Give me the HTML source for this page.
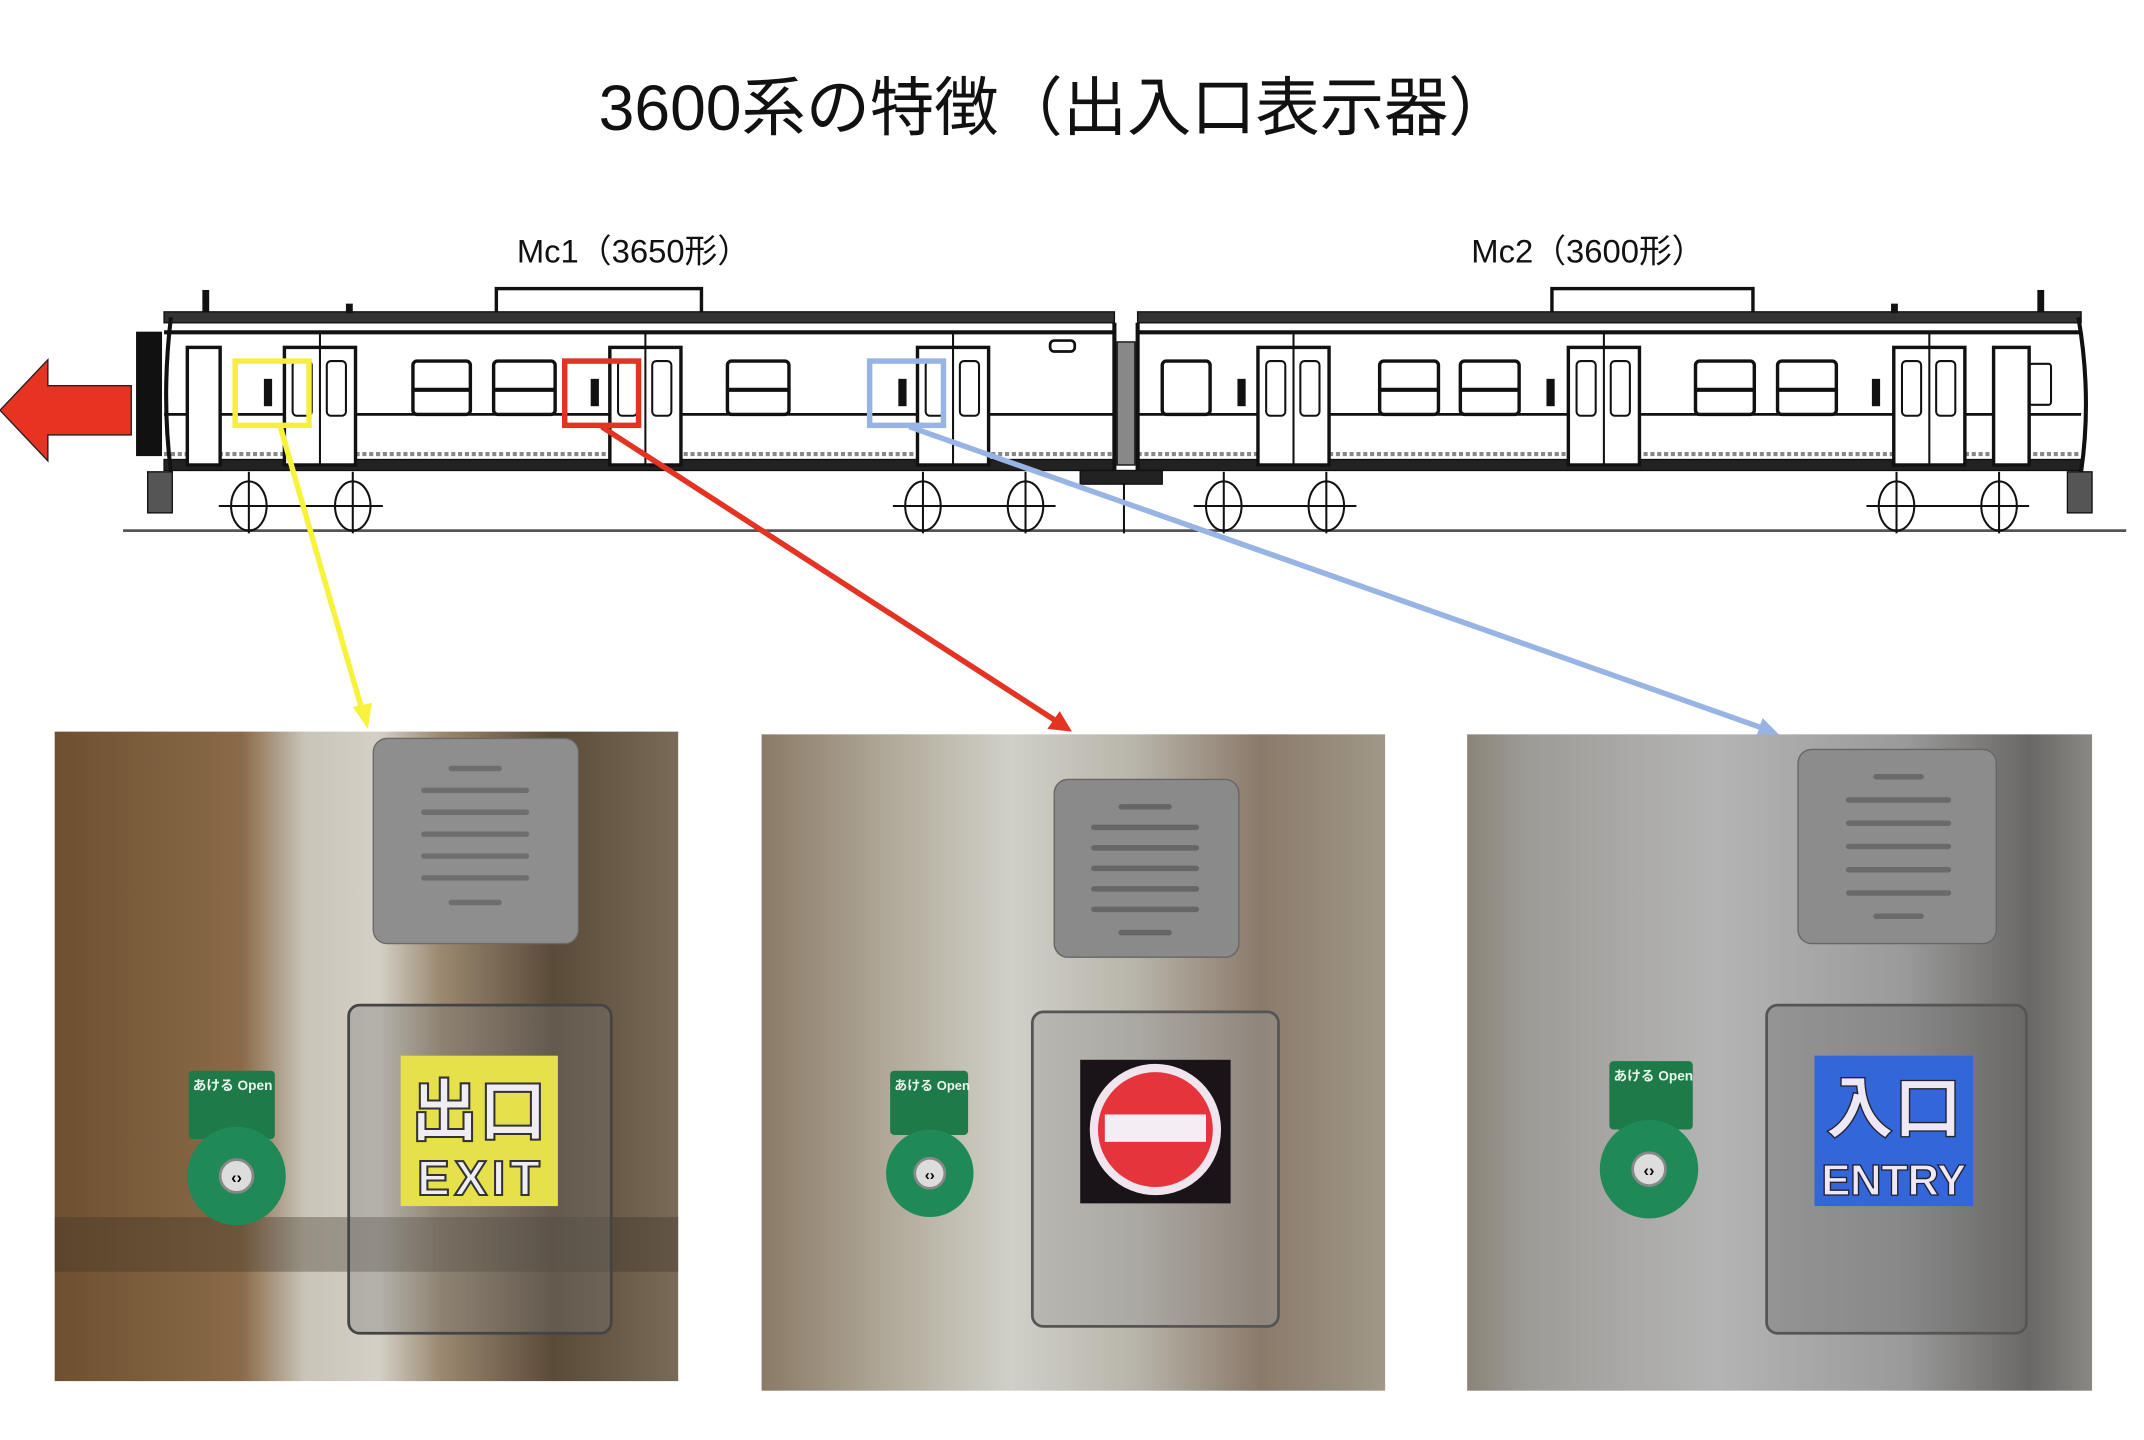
<!DOCTYPE html>
<html><head><meta charset="utf-8"><style>html,body{margin:0;padding:0;background:#fff;}svg{display:block}</style></head>
<body>
<svg width="2144" height="1440" viewBox="0 0 1568 1053" xmlns="http://www.w3.org/2000/svg" font-family="Liberation Sans, Noto Sans CJK JP, sans-serif">
<defs>
<linearGradient id="g1" x1="0" x2="1" y1="0" y2="0">
<stop offset="0" stop-color="#6e5030"/><stop offset="0.3" stop-color="#8a6a48"/><stop offset="0.4" stop-color="#c8c4b8"/><stop offset="0.52" stop-color="#d4d0c6"/><stop offset="0.62" stop-color="#9a8870"/><stop offset="0.8" stop-color="#5a4a38"/><stop offset="1" stop-color="#7a6a58"/></linearGradient>
<linearGradient id="g2" x1="0" x2="1" y1="0" y2="0">
<stop offset="0" stop-color="#8a7a66"/><stop offset="0.2" stop-color="#b0a898"/><stop offset="0.4" stop-color="#d0d0c8"/><stop offset="0.6" stop-color="#b8b4aa"/><stop offset="0.8" stop-color="#8a7a6a"/><stop offset="1" stop-color="#a09888"/></linearGradient>
<linearGradient id="g3" x1="0" x2="1" y1="0" y2="0">
<stop offset="0" stop-color="#8a8478"/><stop offset="0.1" stop-color="#9e9c98"/><stop offset="0.4" stop-color="#b4b4b4"/><stop offset="0.7" stop-color="#9a9a9a"/><stop offset="0.9" stop-color="#6a6866"/><stop offset="1" stop-color="#8a8884"/></linearGradient>
</defs>
<rect width="1568" height="1053" fill="#fff"/>
<text x="772" y="95" font-size="47" text-anchor="middle" fill="#111">3600系の特徴（出入口表示器）</text>
<text x="378" y="192" font-size="24" fill="#111">Mc1（3650形）</text>
<text x="1076" y="192" font-size="24" fill="#111">Mc2（3600形）</text>

<polygon points="0,300 35,263 35,282 96,282 96,318 35,318 35,337" fill="#e83323" stroke="#222" stroke-width="1"/>

<line x1="90" y1="388" x2="1555" y2="388" stroke="#555" stroke-width="2"/>
<g stroke="#111" fill="none">
<rect x="100" y="243" width="18" height="90" fill="#111"/>
<rect x="363" y="211" width="150" height="20" fill="#fff" stroke-width="2.5"/>
<rect x="120" y="228" width="695" height="8" fill="#333"/>
<line x1="120" y1="243" x2="815" y2="243" stroke-width="3"/>
<line x1="120" y1="303" x2="815" y2="303" stroke-width="2"/>
<rect x="120" y="336" width="695" height="8" fill="#222"/>
<line x1="120" y1="332" x2="815" y2="332" stroke-width="3" stroke="#888" stroke-dasharray="3,2"/>
<path d="M125 232 Q118 290 125 345" stroke-width="3"/>
<rect x="1135" y="211" width="147" height="20" fill="#fff" stroke-width="2.5"/>
<rect x="832" y="228" width="690" height="8" fill="#333"/>
<line x1="832" y1="243" x2="1522" y2="243" stroke-width="3"/>
<line x1="832" y1="303" x2="1522" y2="303" stroke-width="2"/>
<rect x="832" y="336" width="690" height="8" fill="#222"/>
<line x1="832" y1="332" x2="1522" y2="332" stroke-width="3" stroke="#888" stroke-dasharray="3,2"/>
<path d="M1520 232 Q1530 290 1522 345" stroke-width="3"/>
<line x1="832" y1="236" x2="832" y2="344" stroke-width="3"/>
<line x1="815" y1="236" x2="815" y2="344" stroke-width="3"/>
<rect x="817" y="250" width="13" height="90" fill="#888"/>
<g stroke-width="2.5" fill="#fff">
<rect x="208" y="254" width="52" height="86"/><rect x="446" y="254" width="52" height="86"/><rect x="671" y="254" width="52" height="86"/>
<rect x="920" y="254" width="52" height="86"/><rect x="1147" y="254" width="52" height="86"/><rect x="1385" y="254" width="52" height="86"/>
<rect x="137" y="254" width="24" height="86"/><rect x="1458" y="254" width="26" height="86"/>
</g>
<g stroke-width="1.5">
<rect x="214" y="264" width="14" height="40" rx="3"/><rect x="239" y="264" width="14" height="40" rx="3"/>
<rect x="452" y="264" width="14" height="40" rx="3"/><rect x="477" y="264" width="14" height="40" rx="3"/>
<rect x="677" y="264" width="14" height="40" rx="3"/><rect x="702" y="264" width="14" height="40" rx="3"/>
<rect x="926" y="264" width="14" height="40" rx="3"/><rect x="951" y="264" width="14" height="40" rx="3"/>
<rect x="1153" y="264" width="14" height="40" rx="3"/><rect x="1178" y="264" width="14" height="40" rx="3"/>
<rect x="1391" y="264" width="14" height="40" rx="3"/><rect x="1416" y="264" width="14" height="40" rx="3"/>
<line x1="234" y1="244" x2="234" y2="340"/><line x1="472" y1="244" x2="472" y2="340"/><line x1="697" y1="244" x2="697" y2="340"/>
<line x1="946" y1="244" x2="946" y2="340"/><line x1="1173" y1="244" x2="1173" y2="340"/><line x1="1411" y1="244" x2="1411" y2="340"/>
<rect x="1484" y="266" width="16" height="30" rx="2"/>
</g>
<g stroke-width="2.5" fill="#fff">
<rect x="302" y="264" width="42" height="39" rx="3"/><rect x="361" y="264" width="45" height="39" rx="3"/><rect x="532" y="264" width="45" height="39" rx="3"/>
<rect x="850" y="264" width="35" height="39" rx="3"/><rect x="1009" y="264" width="43" height="39" rx="3"/><rect x="1068" y="264" width="43" height="39" rx="3"/>
<rect x="1240" y="264" width="43" height="39" rx="3"/><rect x="1300" y="264" width="43" height="39" rx="3"/>
</g>
<g stroke-width="3">
<line x1="302" y1="285" x2="344" y2="285"/><line x1="361" y1="285" x2="406" y2="285"/><line x1="532" y1="285" x2="577" y2="285"/>
<line x1="1009" y1="285" x2="1052" y2="285"/><line x1="1068" y1="285" x2="1111" y2="285"/><line x1="1240" y1="285" x2="1283" y2="285"/><line x1="1300" y1="285" x2="1343" y2="285"/>
</g>
<rect x="768" y="249" width="18" height="8" rx="3" stroke-width="2"/>
<g fill="#111" stroke="none">
<rect x="193" y="277" width="6" height="20"/><rect x="432" y="277" width="6" height="20"/><rect x="657" y="277" width="6" height="20"/>
<rect x="905" y="277" width="6" height="20"/><rect x="1131" y="277" width="6" height="20"/><rect x="1369" y="277" width="6" height="20"/>
<rect x="148" y="212" width="5" height="16"/><rect x="1490" y="212" width="5" height="16"/><rect x="253" y="222" width="5" height="7"/><rect x="1383" y="222" width="5" height="7"/>
</g>
<g stroke-width="1.5">
<ellipse cx="182" cy="370" rx="13" ry="18"/><ellipse cx="258" cy="370" rx="13" ry="18"/><ellipse cx="675" cy="370" rx="13" ry="18"/><ellipse cx="750" cy="370" rx="13" ry="18"/>
<ellipse cx="895" cy="370" rx="13" ry="18"/><ellipse cx="970" cy="370" rx="13" ry="18"/><ellipse cx="1387" cy="370" rx="13" ry="18"/><ellipse cx="1462" cy="370" rx="13" ry="18"/>
<line x1="160" y1="370" x2="280" y2="370"/><line x1="653" y1="370" x2="772" y2="370"/><line x1="873" y1="370" x2="992" y2="370"/><line x1="1365" y1="370" x2="1484" y2="370"/>
<line x1="182" y1="345" x2="182" y2="390"/><line x1="258" y1="345" x2="258" y2="390"/><line x1="675" y1="345" x2="675" y2="390"/><line x1="750" y1="345" x2="750" y2="390"/>
<line x1="895" y1="345" x2="895" y2="390"/><line x1="970" y1="345" x2="970" y2="390"/><line x1="1387" y1="345" x2="1387" y2="390"/><line x1="1462" y1="345" x2="1462" y2="390"/>
<line x1="822" y1="345" x2="822" y2="390"/>
</g>
<rect x="790" y="344" width="60" height="10" fill="#222"/>
<rect x="108" y="345" width="18" height="30" fill="#555"/><rect x="1512" y="345" width="18" height="30" fill="#555"/>
</g>

<rect x="172" y="264" width="54" height="47" fill="none" stroke="#f7ef3b" stroke-width="4"/>
<rect x="413" y="264" width="54" height="47" fill="none" stroke="#e23323" stroke-width="4"/>
<rect x="636" y="264" width="54" height="47" fill="none" stroke="#98b4e4" stroke-width="4"/>
<line x1="205" y1="312" x2="265" y2="520" stroke="#f7f23b" stroke-width="4"/>
<polygon points="269,533 258,517 272,514" fill="#f7f23b"/>
<line x1="440" y1="312" x2="772" y2="527" stroke="#e23323" stroke-width="4"/>
<polygon points="784,535 766,533 775,520" fill="#e23323"/>
<line x1="665" y1="312" x2="1288" y2="532" stroke="#98b4e4" stroke-width="4"/>
<polygon points="1301,537 1284,540 1289,525" fill="#98b4e4"/>

<rect x="40" y="535" width="456" height="475" fill="url(#g1)"/>
<rect x="40" y="890" width="456" height="40" fill="#3a3024" opacity="0.35"/>
<rect x="273" y="540" width="150" height="150" rx="10" fill="#8e8e8e" stroke="#6a6a6a"/>
<g stroke="#6e6e6e" stroke-width="4" stroke-linecap="round"><line x1="310" y1="578" x2="385" y2="578"/><line x1="310" y1="594" x2="385" y2="594"/><line x1="310" y1="610" x2="385" y2="610"/><line x1="310" y1="626" x2="385" y2="626"/><line x1="310" y1="642" x2="385" y2="642"/><line x1="330" y1="562" x2="365" y2="562"/><line x1="330" y1="660" x2="365" y2="660"/></g>
<rect x="255" y="735" width="192" height="240" rx="8" fill="#777" fill-opacity="0.35" stroke="#444" stroke-width="2"/>
<rect x="293" y="772" width="115" height="110" fill="#e6e04a"/>
<text x="350" y="830" font-size="50" font-weight="bold" text-anchor="middle" fill="#f0ecf4" stroke="#333" stroke-width="1.5">出口</text>
<text x="350" y="874" font-size="36" font-weight="bold" text-anchor="middle" fill="#f0ecf4" stroke="#333" stroke-width="1.5" textLength="90">EXIT</text>
<rect x="138" y="783" width="63" height="50" rx="3" fill="#1e7a48"/>
<text x="141" y="797" font-size="10" font-weight="bold" fill="#e8f4ec">あける Open</text>
<circle cx="173" cy="860" r="36" fill="#1f8a58"/><circle cx="173" cy="860" r="12" fill="#ddd" stroke="#888" stroke-width="2"/><text x="173" y="865" font-size="12" font-weight="bold" text-anchor="middle">‹›</text>

<rect x="557" y="537" width="456" height="480" fill="url(#g2)"/>
<rect x="771" y="570" width="135" height="130" rx="10" fill="#8a8a8a" stroke="#666"/>
<g stroke="#666" stroke-width="4" stroke-linecap="round"><line x1="800" y1="605" x2="875" y2="605"/><line x1="800" y1="620" x2="875" y2="620"/><line x1="800" y1="635" x2="875" y2="635"/><line x1="800" y1="650" x2="875" y2="650"/><line x1="800" y1="665" x2="875" y2="665"/><line x1="820" y1="590" x2="855" y2="590"/><line x1="820" y1="682" x2="855" y2="682"/></g>
<rect x="755" y="740" width="180" height="230" rx="8" fill="#999" fill-opacity="0.4" stroke="#555" stroke-width="2"/>
<rect x="790" y="775" width="110" height="105" fill="#1a1418"/>
<circle cx="845" cy="826" r="48" fill="#f0e4ee"/><circle cx="845" cy="826" r="42" fill="#e6343c"/>
<rect x="808" y="815" width="74" height="20" fill="#f4eef4"/>
<rect x="651" y="783" width="57" height="47" rx="3" fill="#1e7a48"/>
<text x="654" y="797" font-size="9.5" font-weight="bold" fill="#e8f4ec">あける Open</text>
<circle cx="680" cy="858" r="32" fill="#1f8a58"/><circle cx="680" cy="858" r="11" fill="#ddd" stroke="#888" stroke-width="2"/><text x="680" y="863" font-size="11" font-weight="bold" text-anchor="middle">‹›</text>

<rect x="1073" y="537" width="457" height="480" fill="url(#g3)"/>
<rect x="1315" y="548" width="145" height="142" rx="10" fill="#8c8c8c" stroke="#666"/>
<g stroke="#6a6a6a" stroke-width="4" stroke-linecap="round"><line x1="1352" y1="585" x2="1425" y2="585"/><line x1="1352" y1="602" x2="1425" y2="602"/><line x1="1352" y1="619" x2="1425" y2="619"/><line x1="1352" y1="636" x2="1425" y2="636"/><line x1="1352" y1="653" x2="1425" y2="653"/><line x1="1372" y1="568" x2="1405" y2="568"/><line x1="1372" y1="670" x2="1405" y2="670"/></g>
<rect x="1292" y="735" width="190" height="240" rx="8" fill="#666" fill-opacity="0.35" stroke="#555" stroke-width="2"/>
<rect x="1327" y="772" width="116" height="110" fill="#3366d8"/>
<text x="1385" y="828" font-size="50" font-weight="bold" text-anchor="middle" fill="#eee8f4" stroke="#223" stroke-width="1">入口</text>
<text x="1385" y="874" font-size="32" font-weight="bold" text-anchor="middle" fill="#eee8f4" stroke="#223" stroke-width="1" textLength="106">ENTRY</text>
<rect x="1177" y="776" width="61" height="50" rx="3" fill="#1e7a48"/>
<text x="1180" y="790" font-size="10" font-weight="bold" fill="#e8f4ec">あける Open</text>
<circle cx="1206" cy="855" r="36" fill="#1f8a58"/><circle cx="1206" cy="855" r="12" fill="#ddd" stroke="#888" stroke-width="2"/><text x="1206" y="860" font-size="12" font-weight="bold" text-anchor="middle">‹›</text>
</svg>
</body></html>
